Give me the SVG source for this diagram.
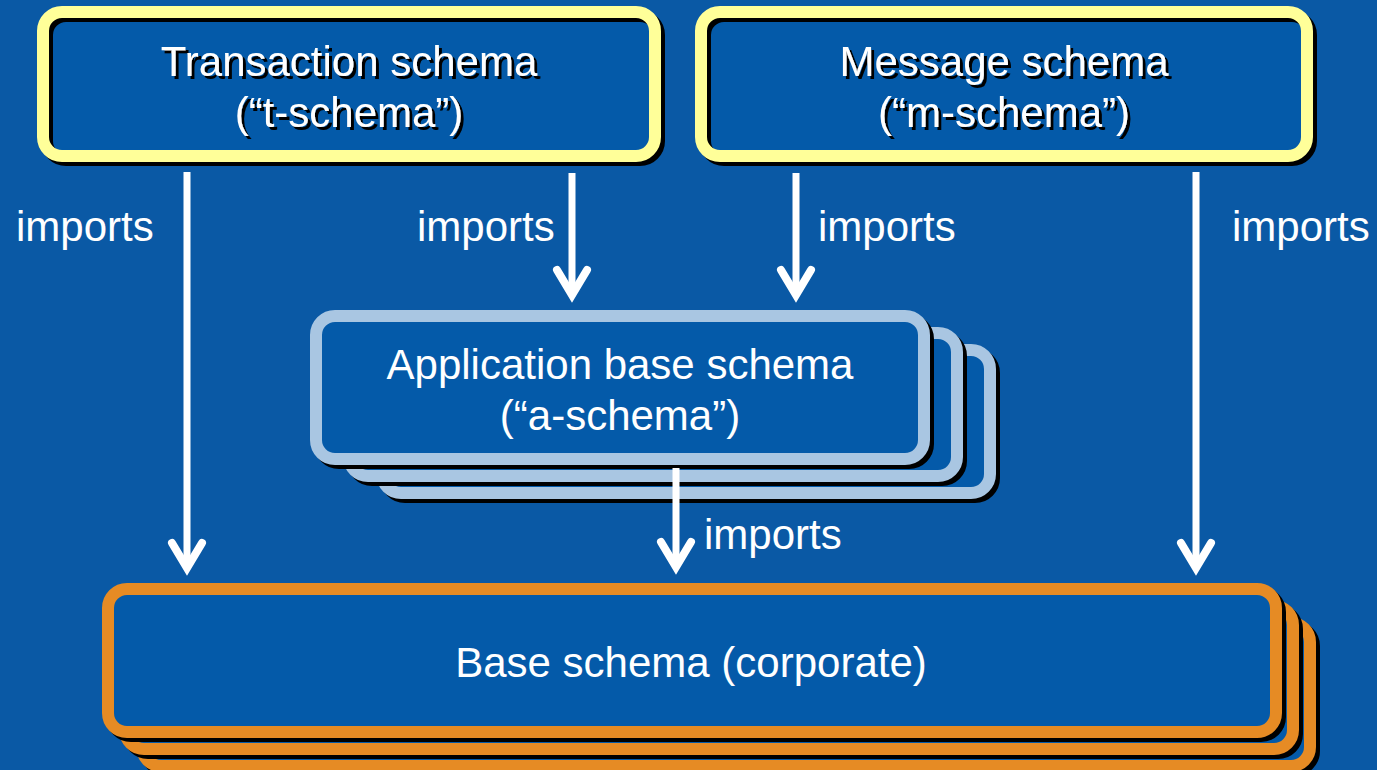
<svg xmlns="http://www.w3.org/2000/svg" width="1377" height="770" viewBox="0 0 1377 770">
<defs>
<filter id="tshadow" x="-5%" y="-20%" width="110%" height="140%">
<feDropShadow dx="3" dy="3" stdDeviation="0" flood-color="#000" flood-opacity="1"/>
</filter>
<style>
.bg{fill:#0A59A5}
.fill{fill:#045AA9}
.sh{fill:none;stroke:#000;stroke-width:12}
.shf{fill:#000;stroke:#000;stroke-width:12}
.yel{fill:none;stroke:#FFFF99;stroke-width:12}
.lb{fill:#045AA9;stroke:#A9C6E2;stroke-width:12}
.or{fill:#045AA9;stroke:#E68B24;stroke-width:12}
text{font-family:"Liberation Sans",Arial,sans-serif;font-size:42px;fill:#fff}
.c{text-anchor:middle}
.ts{filter:url(#tshadow)}
.arr{fill:none;stroke:#fff;stroke-width:7}
.head{fill:none;stroke:#fff;stroke-width:8;stroke-linejoin:miter;stroke-linecap:round}
</style>
</defs>
<rect class="bg" x="0" y="0" width="1377" height="770"/>

<g id="t-schema">
<rect class="fill" x="43" y="12" width="612" height="144" rx="19"/>
<rect class="sh" x="47" y="16" width="612" height="144" rx="19"/>
<rect class="yel" x="43" y="12" width="612" height="144" rx="19"/>
<text class="c ts" x="349" y="76">Transaction schema</text>
<text class="c ts" x="349" y="127">(“t-schema”)</text>
</g>

<g id="m-schema">
<rect class="fill" x="701" y="12" width="606" height="144" rx="19"/>
<rect class="sh" x="705" y="16" width="606" height="144" rx="19"/>
<rect class="yel" x="701" y="12" width="606" height="144" rx="19"/>
<text class="c ts" x="1004" y="76">Message schema</text>
<text class="c ts" x="1004" y="127">(“m-schema”)</text>
</g>

<g id="a-schema">
<rect class="shf" x="386" y="354" width="608" height="143" rx="19"/>
<rect class="lb" x="382" y="350" width="608" height="143" rx="19"/>
<rect class="shf" x="353" y="337" width="608" height="143" rx="19"/>
<rect class="lb" x="349" y="333" width="608" height="143" rx="19"/>
<rect class="shf" x="320" y="320" width="608" height="143" rx="19"/>
<rect class="lb" x="316" y="316" width="608" height="143" rx="19"/>
<text class="c" x="620" y="379">Application base schema</text>
<text class="c" x="620" y="430">(“a-schema”)</text>
</g>

<g id="base-schema">
<rect class="shf" x="146" y="627" width="1168" height="143" rx="19"/>
<rect class="or" x="142" y="623" width="1168" height="143" rx="19"/>
<rect class="shf" x="129" y="610" width="1168" height="143" rx="19"/>
<rect class="or" x="125" y="606" width="1168" height="143" rx="19"/>
<rect class="shf" x="112" y="593" width="1168" height="143" rx="19"/>
<rect class="or" x="108" y="589" width="1168" height="143" rx="19"/>
<text class="c" x="691" y="677">Base schema (corporate)</text>
</g>

<g id="connectors">
<line class="arr" x1="187" y1="172" x2="187" y2="566"/>
<polyline class="head" points="172,543 187,568 202,543"/>
<line class="arr" x1="572" y1="173" x2="572" y2="292"/>
<polyline class="head" points="557,270 572,295 587,270"/>
<line class="arr" x1="796" y1="173" x2="796" y2="292"/>
<polyline class="head" points="781,270 796,295 811,270"/>
<line class="arr" x1="1196" y1="172" x2="1196" y2="566"/>
<polyline class="head" points="1181,543 1196,568 1211,543"/>
<line class="arr" x1="676" y1="468" x2="676" y2="565"/>
<polyline class="head" points="661,542 676,567 691,542"/>
<text x="16" y="241">imports</text>
<text x="417" y="241">imports</text>
<text x="818" y="241">imports</text>
<text x="1232" y="241">imports</text>
<text x="704" y="549">imports</text>
</g>
</svg>
